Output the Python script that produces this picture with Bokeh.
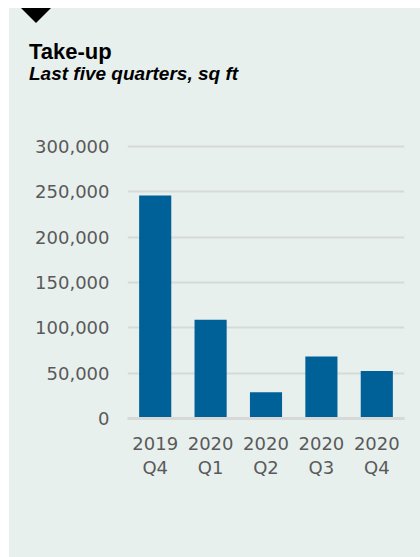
from bokeh.plotting import figure
from bokeh.models import (Range1d, FactorRange, FixedTicker, NumeralTickFormatter,
                          ColumnDataSource, Div)
from bokeh.layouts import column
from bokeh.embed import file_html
from bokeh.resources import INLINE

quarters = ["2019\nQ4", "2020\nQ1", "2020\nQ2", "2020\nQ3", "2020\nQ4"]
take_up = [246000, 109000, 29000, 68500, 52500]
y_ticks = [0, 50000, 100000, 150000, 200000, 250000, 300000]
title = "Take-up"
subtitle = "Last five quarters, sq ft"

BG = "#e8f0ed"
BAR = "#006098"
GRID = "#d6d9d8"
TXT = "#5a5a5a"

# ---- header (title, subtitle, marker triangle) ----
header_html = (
    f'<div style="position:relative;width:411px;height:100px;background:{BG};">'
    '<div style="position:absolute;left:12px;top:0px;width:0;height:0;'
    'border-left:15px solid transparent;border-right:15px solid transparent;'
    'border-top:15px solid #000;"></div>'
    '<div style="position:absolute;left:20px;top:33px;white-space:nowrap;'
    "font-family:'Liberation Sans';font-size:22px;line-height:22px;"
    f'font-weight:bold;color:#000;">{title}</div>'
    '<div style="position:absolute;left:20px;top:56px;white-space:nowrap;'
    "font-family:'Liberation Sans';font-size:19px;line-height:19px;"
    f'font-weight:bold;font-style:italic;color:#000;">{subtitle}</div>'
    '</div>'
)
h = Div(text=header_html, width=411, height=100, margin=0)

# ---- chart ----
src = ColumnDataSource(dict(q=quarters, v=take_up))

p = figure(width=411, height=449, x_range=FactorRange(*quarters, range_padding=0),
           y_range=Range1d(0, 310000), output_backend="svg", toolbar_location=None,
           min_border_left=118, min_border_right=16, min_border_top=29,
           min_border_bottom=139, background_fill_color=BG, border_fill_color=BG,
           outline_line_color=None, margin=0)

p.vbar(x="q", top="v", width=0.58, source=src, color=BAR, line_color=None)

p.xgrid.grid_line_color = None
p.ygrid.grid_line_color = GRID
p.ygrid.grid_line_width = 2
p.ygrid.ticker = FixedTicker(ticks=y_ticks[1:])

p.yaxis.ticker = FixedTicker(ticks=y_ticks)
p.yaxis.formatter = NumeralTickFormatter(format="0,0")
p.yaxis.axis_line_color = None
p.yaxis.major_tick_line_color = None
p.yaxis.minor_tick_line_color = None
p.yaxis.major_label_standoff = 12
p.yaxis.major_label_text_font = "DejaVu Sans"
p.yaxis.major_label_text_font_size = "18px"
p.yaxis.major_label_text_color = TXT

p.xaxis.axis_line_color = GRID
p.xaxis.axis_line_width = 3
p.xaxis.major_tick_line_color = None
p.xaxis.minor_tick_line_color = None
p.xaxis.major_label_standoff = 8
p.xaxis.major_label_text_font = "DejaVu Sans"
p.xaxis.major_label_text_font_size = "18px"
p.xaxis.major_label_text_color = TXT
p.xaxis.major_label_text_line_height = 1.15

layout = column(h, p, spacing=0, margin=(8, 0, 0, 9),
                styles={"background-color": BG})

open("out.html", "w").write(file_html(layout, INLINE))
